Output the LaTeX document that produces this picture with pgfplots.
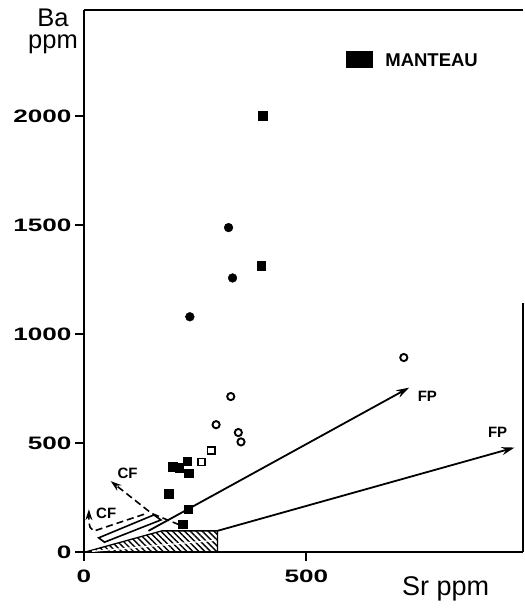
\documentclass[border=0pt]{standalone}
\usepackage{fontspec}
\setmainfont{Liberation Sans}
\newfontfamily\tickfont[FakeStretch=1.45]{Liberation Sans}
\usepackage{pgfplots}
\pgfplotsset{compat=1.18}
\usetikzlibrary{arrows.meta,patterns.meta}

\begin{document}
\begin{tikzpicture}[x=1pt,y=1pt]
\useasboundingbox (-84,-62) rectangle (441,552);
\begin{axis}[
  at={(0,0)}, anchor=south west,
  scale only axis, width=439pt, height=542pt,
  xmin=0, xmax=987, ymin=0, ymax=2486,
  axis x line*=bottom, axis y line*=left,
  axis line style={line width=2pt},
  xtick={0,500}, xticklabels={0,500},
  ytick={0,500,1000,1500,2000}, yticklabels={0,500,1000,1500,2000},
  tick align=outside, major tick length=9pt,
  tick style={line width=1.8pt, black},
  /pgf/number format/assume math mode=true,
  ticklabel style={font=\tickfont\bfseries\fontsize{18}{18}\selectfont},
  xticklabel style={yshift=-5pt},
  xlabel={Sr ppm},
  ylabel={\fontsize{25.5}{22}\selectfont\begin{tabular}{@{}c@{}}Ba\\ppm\end{tabular}},
  xlabel style={at={(axis description cs:0.824,-0.046)}, anchor=north, inner sep=0pt, font=\fontsize{27}{27}\selectfont},
  ylabel style={at={(axis description cs:-0.0706,1.003)}, rotate=-90, anchor=north, inner sep=0pt},
  clip=false,
]
% frame top and partial right side
\draw[line width=2pt] (rel axis cs:0,1) -- (rel axis cs:1,1);
\draw[line width=2pt] (rel axis cs:1,0) -- (rel axis cs:1,0.46);

% hatched mantle field
\addplot[draw=black, line width=1.3pt, pattern={Lines[angle=-45,distance=4.2pt,line width=1.4pt]}]
  coordinates {(3,0) (300,0) (300,97) (175,97)} -- cycle;
\addplot[white, line width=1.3pt] coordinates {(18,3) (297,54)};

% open box
\addplot[black, line width=1.6pt, fill=white] coordinates {(33,65) (46,45) (173,147) (157,170)} -- cycle;

% FP arrows
\addplot[black, line width=1.8pt, -{Stealth[length=13pt,width=8pt]}] coordinates {(145,97) (731,754)};
\addplot[black, line width=1.8pt, -{Stealth[length=13pt,width=8pt]}] coordinates {(300,97) (968,479)};

% CF dashed arrows
\addplot[black, line width=1.6pt, dash pattern=on 7pt off 4pt, -{Stealth[length=11pt,width=7pt]}]
  coordinates {(214,125) (152,177) (60,325)};
\addplot[black, line width=1.6pt, dash pattern=on 7pt off 4pt, -{Stealth[length=11pt,width=7pt]}]
  coordinates {(135,173) (22,96) (14,112) (11,135) (11,196)};

% data points
\addplot[only marks, mark=square*, mark size=4.3pt, black] coordinates {
(402,2000) (398,1313) (232,416) (200,392) (214,386) (236,361) (191,268) (234,197) (222,127)};
\addplot[only marks, mark=*, mark size=4.4pt, black] coordinates {
(325,1488) (334,1257) (238,1079)};
\addplot[only marks, mark=o, mark size=3.6pt, black, mark options={line width=1.9pt}] coordinates {
(719,892) (330,713) (297,584) (347,548) (353,505)};
\addplot[only marks, mark=square, mark size=3.6pt, black, mark options={line width=1.7pt}] coordinates {
(264,413) (286,466)};

% labels
\node[font=\bfseries\fontsize{15}{15}\selectfont, inner sep=0pt] at (axis cs:98,362) {CF};
\node[font=\bfseries\fontsize{15}{15}\selectfont, inner sep=0pt] at (axis cs:50,178) {CF};
\node[font=\bfseries\fontsize{15}{15}\selectfont, inner sep=0pt] at (axis cs:772,716) {FP};
\node[font=\bfseries\fontsize{15}{15}\selectfont, inner sep=0pt] at (axis cs:930,550) {FP};

% legend
\fill (rel axis cs:0.597,0.893) rectangle (rel axis cs:0.658,0.924);
\node[anchor=west, inner sep=0pt, font=\bfseries\fontsize{18.5}{19}\selectfont] at (rel axis cs:0.686,0.908) {MANTEAU};
\end{axis}
\end{tikzpicture}
\end{document}
